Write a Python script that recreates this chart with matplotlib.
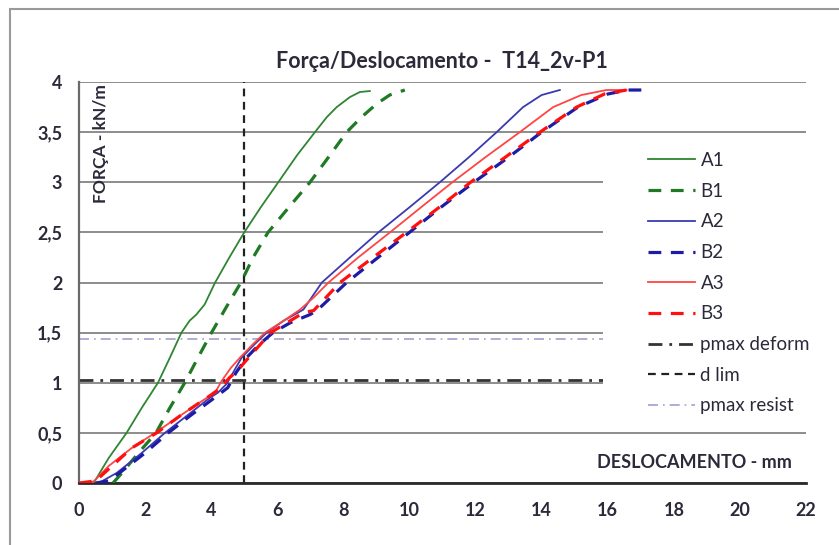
import matplotlib
matplotlib.use("Agg")
import matplotlib.pyplot as plt
from matplotlib.patches import Rectangle

plt.rcParams['font.family'] = ['Lato', 'DejaVu Sans']

# displacement (mm) / force (kN/m)
a1_x = [0.3, 0.48, 0.9, 1.44, 1.9, 2.39, 2.75, 3.1, 3.35, 3.55, 3.8, 4.12, 4.55, 5.0, 5.5, 6.03, 6.6, 7.14, 7.5, 7.8, 8.2, 8.5, 8.8]
a1_y = [0, 0.02, 0.25, 0.5, 0.75, 1.0, 1.25, 1.5, 1.62, 1.68, 1.78, 2.0, 2.25, 2.5, 2.75, 3.0, 3.27, 3.5, 3.65, 3.75, 3.85, 3.9, 3.91]

b1_x = [1.03, 1.3, 1.8, 2.33, 2.75, 3.2, 3.6, 4.01, 4.45, 4.9, 5.27, 5.72, 6.35, 6.99, 7.55, 8.1, 8.55, 9.0, 9.4, 9.86]
b1_y = [0, 0.1, 0.3, 0.5, 0.75, 1.0, 1.25, 1.5, 1.75, 2.0, 2.25, 2.5, 2.75, 3.0, 3.25, 3.5, 3.65, 3.78, 3.87, 3.92]

a2_x = [0.3, 0.6, 1.14, 1.9, 2.6, 3.3, 3.96, 4.2, 4.47, 4.92, 5.3, 5.68, 6.2, 6.79, 7.1, 7.35, 8.2, 9.06, 10.0, 10.92, 11.8, 12.64, 13.44, 14.0, 14.55]
a2_y = [0, 0.0, 0.1, 0.3, 0.5, 0.68, 0.85, 0.9, 0.99, 1.25, 1.38, 1.5, 1.62, 1.73, 1.88, 2.0, 2.25, 2.5, 2.75, 3.0, 3.25, 3.5, 3.75, 3.87, 3.92]

b2_x = [0.5, 0.9, 1.3, 2.0, 2.7, 3.4, 4.1, 4.5, 4.75, 5.07, 5.45, 5.87, 6.4, 6.99, 7.2, 8.1, 9.05, 10.0, 10.95, 11.95, 13.0, 14.0, 15.1, 16.0, 16.6, 17.03]
b2_y = [0, 0.02, 0.12, 0.3, 0.5, 0.68, 0.85, 0.95, 1.1, 1.25, 1.38, 1.5, 1.6, 1.68, 1.72, 2.0, 2.25, 2.5, 2.75, 3.0, 3.25, 3.5, 3.75, 3.88, 3.92, 3.92]

a3_x = [0, 0.4, 0.9, 1.6, 2.3, 3.1, 3.96, 4.15, 4.32, 4.6, 4.87, 5.25, 5.63, 6.2, 6.69, 7.1, 7.55, 8.45, 9.41, 10.35, 11.3, 12.3, 13.34, 14.35, 15.2, 15.96, 16.57]
a3_y = [0, 0.0, 0.17, 0.35, 0.5, 0.68, 0.87, 0.92, 1.02, 1.15, 1.25, 1.38, 1.5, 1.62, 1.73, 1.85, 2.0, 2.25, 2.5, 2.75, 3.0, 3.25, 3.5, 3.75, 3.87, 3.92, 3.92]

b3_x = [0, 0.5, 1.0, 1.6, 2.35, 3.1, 3.96, 4.3, 4.55, 4.8, 5.0, 5.4, 5.8, 6.3, 6.8, 7.1, 7.9, 8.9, 9.91, 10.9, 11.85, 12.9, 13.95, 15.06, 15.9, 16.57]
b3_y = [0, 0.02, 0.17, 0.35, 0.5, 0.68, 0.87, 0.95, 1.05, 1.12, 1.2, 1.35, 1.5, 1.6, 1.7, 1.72, 2.0, 2.25, 2.5, 2.75, 3.0, 3.25, 3.5, 3.75, 3.88, 3.92]

pmax_deform = 1.03
pmax_resist = 1.44
d_lim = 5.0

x_ticks = list(range(0, 23, 2))
y_ticks = [0, 0.5, 1, 1.5, 2, 2.5, 3, 3.5, 4]
y_labels = ["0", "0,5", "1", "1,5", "2", "2,5", "3", "3,5", "4"]

txt = '#2a2a3a'

fig = plt.figure(figsize=(8.39, 5.45), dpi=100)
ax = fig.add_axes([79/839, 1-483/545, (806-79)/839, (483-82)/545])

# outer chart border
fig.patches.append(Rectangle((10/839, -0.1), 1.2, 1.1 - 9/545, transform=fig.transFigure,
                             fill=False, edgecolor='#9a9a9a', lw=1.5))

ax.plot(a1_x, a1_y, color='#2e8533', lw=1.3, label='A1', zorder=3)
ax.plot(b1_x, b1_y, color='#1f7a24', lw=2.3, dashes=(4, 3), label='B1', zorder=3)
ax.plot(a2_x, a2_y, color='#3a3ab0', lw=1.3, label='A2', zorder=3)
ax.plot(b2_x, b2_y, color='#1c1ca6', lw=2.3, dashes=(4, 3), label='B2', zorder=3)
ax.plot(a3_x, a3_y, color='#ff4444', lw=1.3, label='A3', zorder=3)
ax.plot(b3_x, b3_y, color='#ff1010', lw=2.3, dashes=(4, 3), label='B3', zorder=3)

ax.axhline(pmax_deform, color='#333333', lw=2.0, dashes=(5, 2.5, 1, 2.5), label='pmax deform', zorder=2)
ax.axvline(d_lim, color='#222222', lw=1.6, dashes=(3.5, 2.5), label='d lim', zorder=2)
ax.axhline(pmax_resist, color='#a0a0d0', lw=1.2, dashes=(6, 3, 1, 3), label='pmax resist', zorder=2)

# white area behind the legend, hiding grid and reference lines
ax.add_patch(Rectangle((0.721, 0.148), 0.279, 0.706, transform=ax.transAxes,
                       facecolor='white', edgecolor='none', zorder=4))

ax.set_xlim(0, 22)
ax.set_ylim(0, 4)
ax.set_xticks(x_ticks)
ax.set_yticks(y_ticks)
ax.set_yticklabels(y_labels)
ax.grid(axis='y', color='#8c8c8c', lw=1.4, zorder=0)
ax.set_axisbelow(True)
ax.tick_params(length=0, labelsize=13, labelcolor=txt)
ax.tick_params(axis='y', pad=12)
ax.tick_params(axis='x', pad=14)
for lab in ax.get_xticklabels() + ax.get_yticklabels():
    lab.set_fontweight('bold')

for s in ['top', 'right']:
    ax.spines[s].set_visible(False)
ax.spines['left'].set_color('#6a6a6a')
ax.spines['left'].set_linewidth(1.6)
ax.spines['bottom'].set_color('#2a2a2a')
ax.spines['bottom'].set_linewidth(2.0)

leg = ax.legend(loc='upper left', bbox_to_anchor=(648/839, 1-152/545),
                bbox_transform=fig.transFigure, frameon=False, fontsize=13.5,
                handlelength=2.5, handletextpad=0.3, labelspacing=0.73,
                borderpad=0, borderaxespad=0)
leg.set_zorder(5)
for t in leg.get_texts():
    t.set_color(txt)

fig.text(442/839, 1-62/545, 'Força/Deslocamento -  T14_2v-P1', ha='center', va='center',
         fontsize=15.5, fontweight='bold', color=txt)
ax.text(0.98, 0.05, 'DESLOCAMENTO - mm', transform=ax.transAxes, ha='right', va='center',
        fontsize=13, fontweight='bold', color=txt, zorder=6)
ax.text(0.03, 0.995, 'FORÇA - kN/m', transform=ax.transAxes, rotation=90, ha='center', va='top',
        fontsize=12.5, fontweight='bold', color=txt, zorder=6)

fig.savefig('out.png', dpi=100)
